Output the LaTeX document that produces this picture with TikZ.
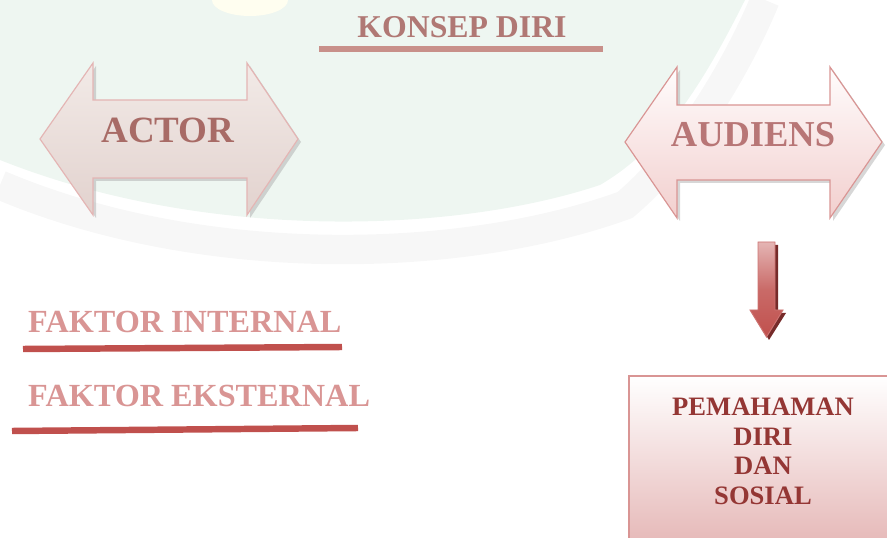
\documentclass[tikz,border=0pt]{standalone}
\usepackage{fontspec}
\setmainfont{Liberation Serif}
\usepackage{tikz}
\usetikzlibrary{shapes,arrows,shadows}

\definecolor{konsepred}{HTML}{B07874}
\definecolor{konsepline}{HTML}{C8908A}
\definecolor{faktorred}{HTML}{D99594}
\definecolor{darkline}{HTML}{C0504D}
\definecolor{actorred}{HTML}{A86B66}
\definecolor{audred}{HTML}{B87676}
\definecolor{boxred}{HTML}{943634}
\definecolor{bgtint}{HTML}{EEF6F1}
\definecolor{actortop}{HTML}{F2EAE7}
\definecolor{actorbot}{HTML}{E2D2CE}
\definecolor{audbot}{HTML}{F2CFCE}

\begin{document}
\begin{tikzpicture}[x=0.85pt,y=-0.85pt,
                every node/.style={font=\bfseries,inner sep=0pt},
                uline/.style={line width=5.5pt},
                shade/.style={fill=black!35,opacity=.45}]
  \clip (0,0) rectangle (887,538);
  %\fill[white] (0,0) rectangle (887,538);
  % watermark behind
  \fill[bgtint] (0,0) -- (745,0) .. controls (700,90) and (660,150) .. (600,185)
        .. controls (450,235) and (200,240) .. (0,160) -- cycle;
  \draw[black!3,line width=25pt] (0,185) .. controls (200,270) and (460,265) .. (625,205)
        .. controls (690,150) and (740,60) .. (765,0);
  \fill[yellow!6] (250,0) ellipse (38 and 16);

  \node[text=konsepred,font=\fontsize{27}{30}\selectfont\bfseries,anchor=base] (konsep) at (462,38) {KONSEP DIRI};
  \draw[uline,konsepline,line width=5pt] (319,49) -- (603,49);

  % actor
  \fill[shade] (43,142) -- (96,66) -- (96,103) -- (250,103) -- (250,66) -- (301,142)
        -- (250,218) -- (250,181) -- (96,181) -- (96,218) -- cycle;
  \draw[draw=faktorred!70,line width=1pt,top color=actortop,bottom color=actorbot]
        (40,139) -- (93,63) -- (93,100) -- (247,100) -- (247,63) -- (298,139)
        -- (247,215) -- (247,178) -- (93,178) -- (93,215) -- cycle;
  \node[text=actorred,font=\fontsize{31.5}{34}\selectfont\bfseries,anchor=base] (actor) at (168,143) {ACTOR};

  % audiens
  \fill[shade] (628,145) -- (680,70) -- (680,108) -- (833,108) -- (833,70) -- (885,145)
        -- (833,221) -- (833,183) -- (680,183) -- (680,221) -- cycle;
  \draw[draw=faktorred,line width=1pt,top color=red!1,bottom color=audbot]
        (625,142) -- (677,67) -- (677,105) -- (830,105) -- (830,67) -- (882,142)
        -- (830,218) -- (830,180) -- (677,180) -- (677,218) -- cycle;
  \node[text=audred,font=\fontsize{31}{34}\selectfont\bfseries,anchor=base] (audiens) at (753,147) {AUDIENS};

  % down arrow
  \fill[boxred!80!black] (761,245) -- (778,245) -- (778,313) -- (786,313) -- (769,340)
        -- (753,313) -- (761,313) -- cycle;
  \draw[draw=darkline!80,line width=.8pt,top color=faktorred!70,bottom color=darkline,middle color=darkline!85]
        (758,242) -- (775,242) -- (775,310) -- (783,310) -- (766.5,337)
        -- (750,310) -- (758,310) -- cycle;

  % box
  \node[draw=faktorred,line width=1.8pt,top color=white,bottom color=faktorred!70,
        minimum width=230pt,minimum height=150pt,anchor=north west] (box) at (628,375) {};
  \node[text=boxred,font=\fontsize{22.6}{25.5}\selectfont\bfseries,align=center,anchor=base] (pemahaman)
        at (763,505) {PEMAHAMAN\\DIRI\\DAN\\SOSIAL};

  \node[text=faktorred,font=\fontsize{27.4}{30}\selectfont\bfseries,anchor=base west] (internal) at (28,333) {FAKTOR INTERNAL};
  \draw[uline,darkline] (23,349) -- (342,347);
  \node[text=faktorred,font=\fontsize{27.4}{30}\selectfont\bfseries,anchor=base west] (eksternal) at (28,407) {FAKTOR EKSTERNAL};
  \draw[uline,darkline] (12,431) -- (358,428);
\end{tikzpicture}
\end{document}
